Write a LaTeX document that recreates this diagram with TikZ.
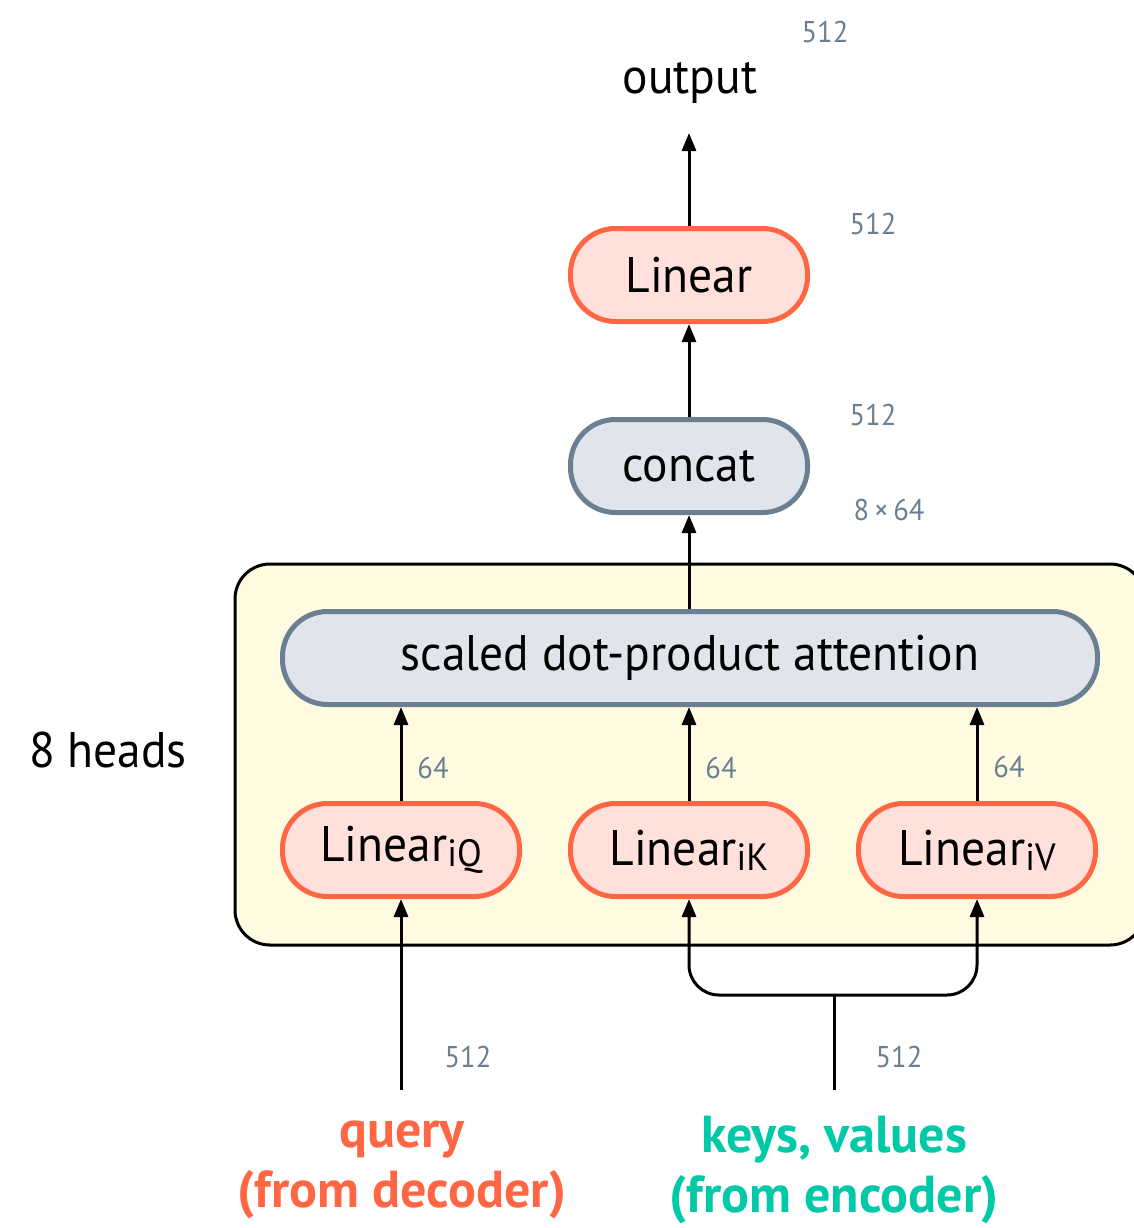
\documentclass[tikz,border=0pt]{standalone}
\usepackage{fontspec}
\setmainfont{PT Sans}[FakeStretch=0.95, BoldFeatures={FakeStretch=1.0}]
\usetikzlibrary{arrows.meta}
\definecolor{oline}{HTML}{FF6644}
\definecolor{ofill}{HTML}{FFE0DA}
\definecolor{gline}{HTML}{6B7F93}
\definecolor{gfill}{HTML}{E1E4EA}
\definecolor{yfill}{HTML}{FEFBE0}
\definecolor{teal}{HTML}{00C9A7}
\definecolor{numc}{HTML}{6B7F93}
\tikzset{
  box/.style={rounded corners=45pt, line width=5pt, minimum height=93pt, minimum width=237pt, inner sep=0pt, font=\fontsize{50}{50}\selectfont},
  obox/.style={box, draw=oline, fill=ofill},
  gbox/.style={box, draw=gline, fill=gfill},
  num/.style={text=numc, font=\fontsize{30}{30}\selectfont, inner sep=0pt},
  big/.style={font=\fontsize{50}{50}\selectfont, inner sep=0pt},
  src/.style={font=\bfseries\fontsize{52}{60}\selectfont, align=center, inner sep=0pt},
  line/.style={line width=3pt},
  arr/.style={line, -{Triangle[width=14pt,length=18pt]}},
}
\newcommand{\sub}[1]{\raisebox{-5pt}{\fontsize{38}{38}\selectfont #1}}
\begin{document}
\begin{tikzpicture}[x=1pt,y=-1pt]
\useasboundingbox (0,0) rectangle (1134,1228);
\clip (0,0) rectangle (1134,1228);
% heads container
\draw[line, fill=yfill, rounded corners=35pt] (235,564) rectangle (1145,945);
\node[big] (heads) at (108,750) {8 heads};
% nodes
\node[big] (output) at (690,83) {output};
\coordinate (outtip) at (689,133);
\node[obox] (lin) at (689,275) {Linear};
\node[gbox] (concat) at (689,466) {concat};
\node[gbox, minimum width=815pt] (sdpa) at (690,658) {scaled dot-product attention};
\node[obox] (linq) at (401,850) {Linear\sub{iQ}};
\node[obox] (link) at (689,850) {Linear\sub{iK}};
\node[obox] (linv) at (977,850) {Linear\sub{iV}};
% sources
\node[src, text=oline] (query) at (402,1170) {query\\(from decoder)};
\node[src, text=teal] (keys) at (834,1170) {keys, values\\(from encoder)};
\coordinate (qsrc) at (401,1090);
\coordinate (ksrc) at (834,1090);
\coordinate (kbus) at (834,995);
% connectors
\draw[arr] (lin.north) -- (outtip);
\draw[arr] (concat.north) -- (lin.south);
\draw[arr] (sdpa.north -| concat.south) -- (concat.south);
\draw[arr] (linq.north) -- (linq.north |- sdpa.south);
\draw[arr] (link.north) -- (link.north |- sdpa.south);
\draw[arr] (linv.north) -- (linv.north |- sdpa.south);
\draw[arr] (qsrc) -- (linq.south);
\draw[line] (ksrc) -- (kbus);
\draw[arr, rounded corners=30pt] (kbus) -| (link.south);
\draw[arr, rounded corners=30pt] (kbus) -| (linv.south);
% dimension labels
\node[num] (n1) at (825,32) {512};
\node[num] (n2) at (873,224) {512};
\node[num] (n3) at (873,415) {512};
\node[num] (n4) at (889,510) {8\,×\,64};
\node[num] (n5) at (433,768) {64};
\node[num] (n6) at (721,768) {64};
\node[num] (n7) at (1009,767) {64};
\node[num] (n8) at (468,1057) {512};
\node[num] (n9) at (899,1057) {512};
\end{tikzpicture}
\end{document}
